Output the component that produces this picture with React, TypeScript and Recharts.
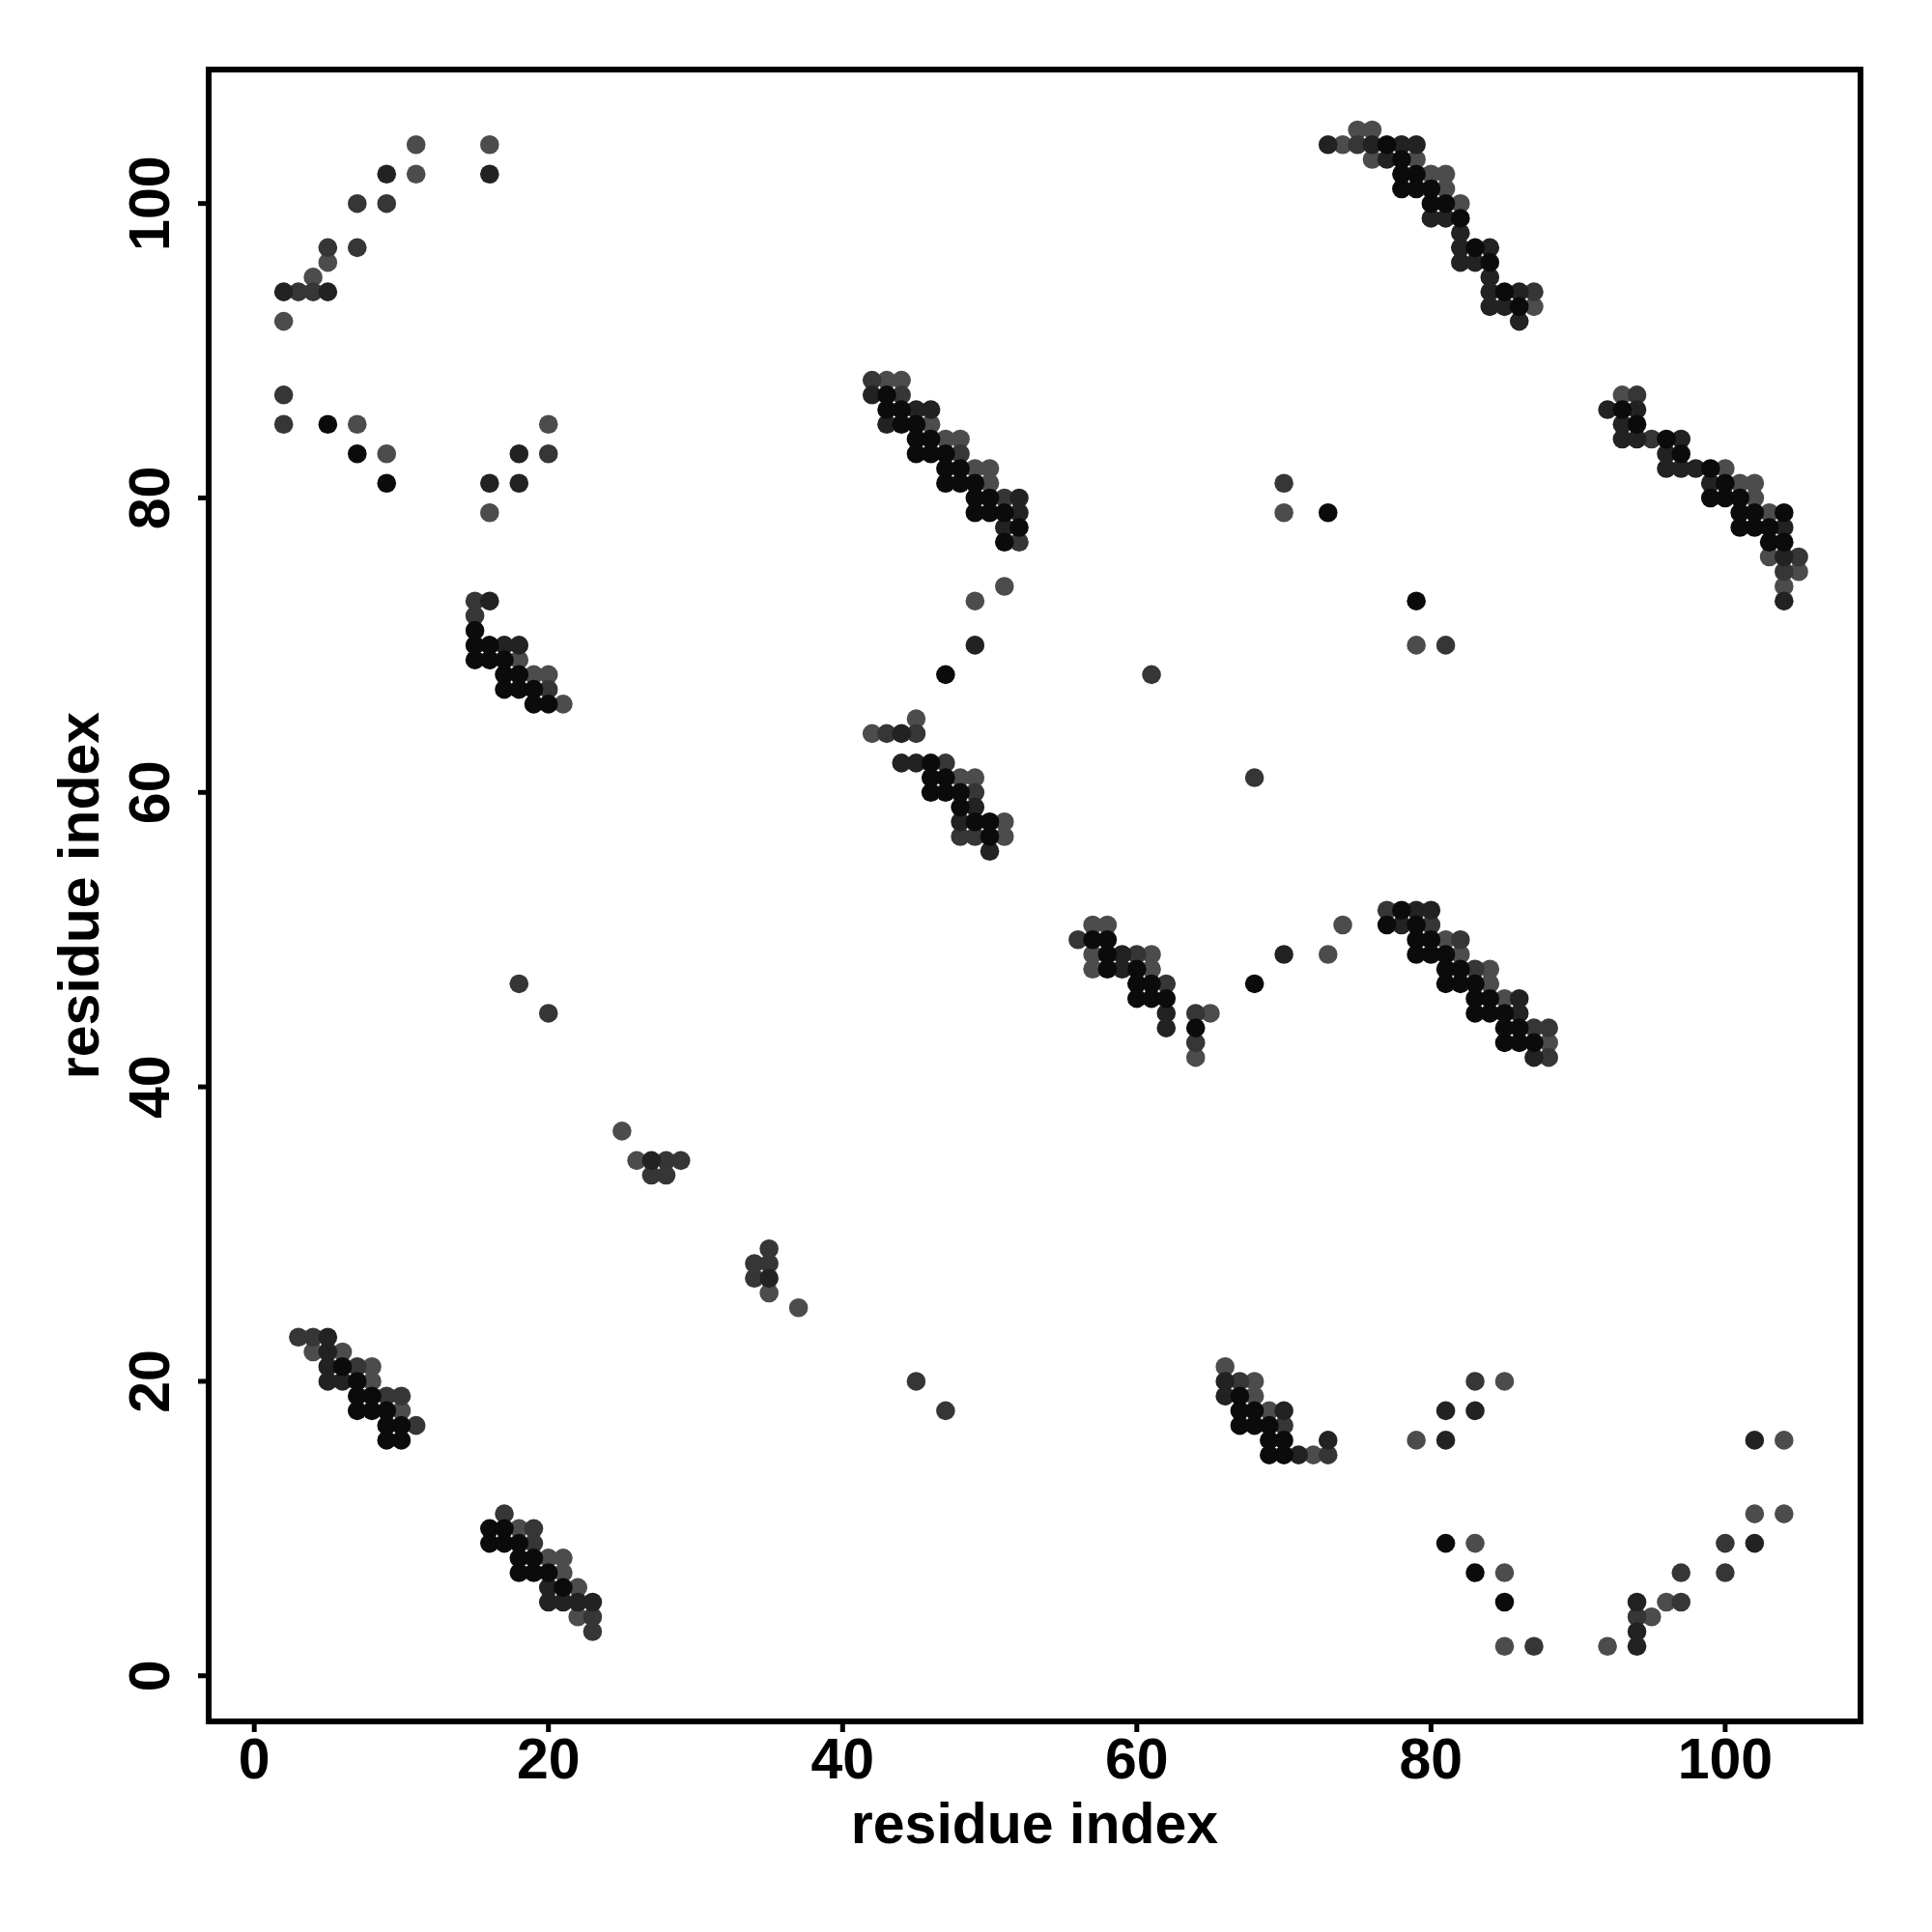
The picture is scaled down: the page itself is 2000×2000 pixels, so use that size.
import { ScatterChart, Scatter, XAxis, YAxis, ReferenceArea } from "recharts";

// contact map: each shade is one group of (i, j) residue pairs
const shadeBlack: [number, number][] = [
  [5, 85], [7, 83], [9, 81],
  [15, 71], [15, 70], [16, 70], [15, 69], [16, 69], [17, 69], [17, 68], [18, 68], [17, 67], [18, 67], [19, 67], [19, 66], [20, 66],
  [43, 87], [43, 86], [44, 86], [44, 85], [45, 85], [45, 84], [46, 84], [45, 83], [46, 83], [47, 83], [47, 82], [48, 82], [47, 81], [48, 81], [49, 81],
  [49, 80], [50, 80], [49, 79], [50, 79], [51, 79], [52, 78], [51, 77], [47, 68],
  [46, 62], [46, 61], [47, 61], [46, 60], [47, 60], [48, 60], [48, 59], [49, 58], [50, 58], [50, 57],
  [77, 104], [78, 103], [78, 102], [79, 102], [78, 101], [79, 101], [80, 101], [80, 100], [81, 100], [82, 99], [83, 97], [84, 96], [85, 94], [86, 93],
  [93, 86], [94, 85], [96, 84], [97, 83], [99, 82], [100, 81], [99, 80], [100, 80], [101, 80], [101, 79], [102, 79], [104, 79], [101, 78], [102, 78], [103, 78], [103, 77], [104, 77],
  [57, 50], [58, 50], [58, 49], [58, 48], [60, 48], [60, 47], [61, 47], [60, 46], [61, 46], [62, 46], [64, 44], [68, 47],
  [78, 52], [77, 51], [79, 51], [79, 50], [80, 50], [79, 49], [80, 49], [81, 49], [81, 48], [82, 48], [81, 47], [82, 47], [83, 47], [83, 46], [84, 46],
  [83, 45], [84, 45], [85, 45], [85, 44], [86, 44], [85, 43], [86, 43], [87, 43],
  [6, 21], [7, 20], [7, 19], [8, 19], [7, 18], [8, 18], [9, 18], [9, 17], [10, 17], [9, 16], [10, 16],
  [16, 10], [17, 10], [16, 9], [17, 9], [18, 9], [18, 8], [19, 8], [18, 7], [19, 7], [20, 7], [21, 6],
  [67, 19], [67, 18], [68, 18], [67, 17], [68, 17], [69, 17], [69, 16], [70, 16], [69, 15], [70, 15],
  [81, 9], [83, 7], [85, 5],
  [73, 79], [79, 73],
];

const shadeDark: [number, number][] = [
  [9, 102], [16, 102], [2, 94], [5, 94], [18, 83], [16, 81], [18, 81],
  [16, 73], [17, 70], [18, 70],
  [42, 87], [45, 86], [46, 86], [43, 85], [52, 80], [52, 79], [51, 78], [49, 70], [44, 64], [44, 62], [45, 62], [49, 59], [48, 58], [50, 56],
  [73, 104], [76, 104], [78, 104], [79, 104], [77, 103], [80, 99], [81, 99], [82, 98], [82, 97], [84, 97], [82, 96], [83, 96], [84, 95], [84, 94], [86, 94], [84, 93], [85, 93], [86, 92],
  [92, 86], [94, 86], [93, 85], [93, 84], [94, 84], [97, 84], [96, 83], [96, 82], [97, 82], [98, 82], [99, 81], [104, 78], [104, 76], [104, 73],
  [59, 49], [59, 48], [62, 45], [62, 44], [70, 49],
  [79, 52], [80, 52], [78, 51], [86, 46], [86, 45], [87, 42],
  [5, 23], [5, 22], [5, 21], [5, 20], [6, 20],
  [20, 6], [20, 5], [21, 5], [22, 5], [23, 5],
  [66, 20], [66, 19], [70, 18], [73, 16], [71, 15],
  [81, 18], [83, 18], [81, 16], [102, 16], [102, 9], [94, 5], [94, 3], [94, 2],
  [27, 35], [35, 27],
];

const shadeMid: [number, number][] = [
  [7, 100], [9, 100], [5, 97], [7, 97], [3, 94], [4, 94], [2, 87], [2, 85], [20, 83],
  [15, 73], [15, 72], [20, 67],
  [42, 88], [44, 87], [48, 83], [51, 80], [52, 77], [43, 64], [45, 64], [47, 62], [49, 60], [48, 57], [49, 57],
  [75, 104], [87, 94],
  [94, 87], [95, 84], [105, 76], [104, 75],
  [56, 50], [60, 49], [62, 47], [64, 45], [64, 43],
  [77, 52], [80, 51], [82, 50], [83, 48], [87, 44], [88, 44], [88, 42],
  [3, 23], [4, 23], [7, 21], [9, 19], [10, 19], [11, 17],
  [17, 11], [19, 10], [19, 9], [23, 4], [23, 3],
  [67, 20], [70, 17], [73, 15],
  [83, 20], [100, 9], [97, 7], [100, 7], [97, 5], [94, 4], [87, 2],
  [28, 35], [29, 35], [27, 34], [28, 34], [35, 29], [34, 28], [35, 28], [34, 27],
  [70, 81], [61, 68], [81, 70], [68, 61], [45, 20], [47, 18], [18, 47], [20, 45],
];

const shadeLight: [number, number][] = [
  [11, 104], [16, 104], [11, 102], [5, 96], [4, 95], [2, 92], [7, 85], [20, 85], [9, 83], [16, 79],
  [18, 69], [19, 68], [20, 68], [21, 66],
  [43, 88], [44, 88], [46, 85], [47, 84], [48, 84], [49, 82], [50, 82], [50, 81], [51, 74], [49, 73], [45, 65], [42, 64], [48, 61], [49, 61], [51, 58], [51, 57],
  [75, 105], [76, 105], [74, 104], [76, 103], [79, 103], [80, 102], [81, 102], [81, 101], [82, 100], [87, 93],
  [93, 87], [100, 82], [101, 81], [102, 81], [102, 80], [103, 79], [103, 76], [105, 75], [104, 74],
  [57, 51], [58, 51], [57, 49], [61, 49], [57, 48], [61, 48], [65, 45], [64, 42], [73, 49], [74, 51],
  [81, 50], [82, 49], [84, 48], [84, 47], [85, 46], [88, 43],
  [4, 22], [6, 22], [8, 21], [8, 20], [10, 18],
  [18, 10], [20, 8], [21, 8], [21, 7], [22, 6], [22, 4],
  [66, 21], [68, 20], [68, 19], [69, 18], [72, 15],
  [85, 20], [79, 16], [104, 16], [102, 11], [104, 11], [83, 9], [85, 7], [96, 5], [95, 4], [85, 2], [92, 2],
  [25, 37], [26, 35], [35, 26], [37, 25],
  [70, 79], [79, 70],
];

const axisTicks = [0, 20, 40, 60, 80, 100];
const xDomain: [number, number] = [-3.1, 109.2];
const yDomain: [number, number] = [-3.1, 109.1];

const toPoints = (pairs: [number, number][]) => pairs.map(([i, j]) => ({ i, j }));

const series = [
  { name: "light", color: "#4c4c4c", data: toPoints(shadeLight) },
  { name: "mid", color: "#363636", data: toPoints(shadeMid) },
  { name: "dark", color: "#222222", data: toPoints(shadeDark) },
  { name: "black", color: "#0b0b0b", data: toPoints(shadeBlack) },
];

const FONT = 59;
const tickStyle = { stroke: "#000", strokeWidth: 5 };

const YTick = (props: any) => {
  const { x, y, payload } = props;
  return (
    <text
      x={x}
      y={y}
      transform={`rotate(-90 ${x} ${y})`}
      textAnchor="middle"
      fontSize={FONT}
      fontWeight="bold"
      fill="#000"
    >
      {payload.value}
    </text>
  );
};

const XTitle = (props: any) => {
  const { viewBox } = props;
  const cx = viewBox.x + viewBox.width / 2;
  return (
    <text x={cx} y={1908} textAnchor="middle" fontSize={FONT} fontWeight="bold" fill="#000">
      residue index
    </text>
  );
};

const YTitle = (props: any) => {
  const { viewBox } = props;
  const cx = 102;
  const cy = viewBox.y + viewBox.height / 2;
  return (
    <text
      x={cx}
      y={cy}
      transform={`rotate(-90 ${cx} ${cy})`}
      textAnchor="middle"
      fontSize={FONT}
      fontWeight="bold"
      fill="#000"
    >
      residue index
    </text>
  );
};

export default function App() {
  return (
    <div
      style={{
        position: "absolute",
        left: 0,
        top: 0,
        width: 2000,
        height: 2000,
        background: "#fff",
        fontFamily: "'Liberation Sans', Arial, Helvetica, sans-serif",
      }}
    >
      <ScatterChart width={2000} height={2000} margin={{ top: 72, right: 74, bottom: 0, left: 0 }}>
        <XAxis
          xAxisId="b"
          type="number"
          dataKey="i"
          domain={xDomain}
          ticks={axisTicks}
          height={218}
          axisLine={false}
          tickLine={tickStyle}
          tickSize={11}
          tickMargin={6}
          tick={{ fontSize: FONT, fontWeight: "bold", fill: "#000" }}
          label={<XTitle />}
        />
        <YAxis
          yAxisId="l"
          type="number"
          dataKey="j"
          domain={yDomain}
          ticks={axisTicks}
          width={216}
          axisLine={false}
          tickLine={tickStyle}
          tickSize={11}
          tickMargin={30}
          tick={<YTick />}
          label={<YTitle />}
        />
        {series.map((s) => (
          <Scatter
            key={s.name}
            name={s.name}
            data={s.data}
            xAxisId="b"
            yAxisId="l"
            isAnimationActive={false}
            shape={(p: any) => <circle cx={p.cx} cy={p.cy} r={9.8} fill={s.color} />}
          />
        ))}
        {/* plot frame */}
        <ReferenceArea
          xAxisId="b"
          yAxisId="l"
          x1={xDomain[0]}
          x2={xDomain[1]}
          y1={yDomain[0]}
          y2={yDomain[1]}
          fill="none"
          fillOpacity={0}
          stroke="#000"
          strokeWidth={6}
          ifOverflow="visible"
        />
      </ScatterChart>
    </div>
  );
}
